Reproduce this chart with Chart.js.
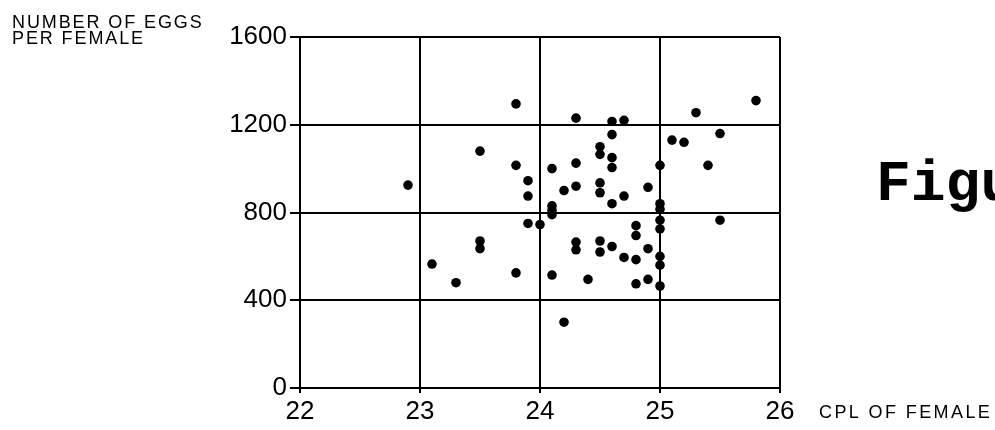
<!DOCTYPE html>
<html>
<head>
<meta charset="utf-8">
<script src="https://cdn.jsdelivr.net/npm/chart.js@4"></script>
<style>
  body { margin: 0; background: #fff; overflow: hidden; }
  #wrap { width: 995px; height: 430px; }
</style>
</head>
<body>
<div id="wrap"><canvas id="myChart" width="995" height="430"></canvas></div>
<script>
// Longitud (CPL) de cada hembra y número de huevos
var cplFemale = [
  22.9, 23.1, 23.3, 23.5, 23.5, 23.5, 23.8, 23.8, 23.8, 23.9,
  23.9, 23.9, 24.0, 24.1, 24.1, 24.1, 24.1, 24.1, 24.2, 24.2,
  24.3, 24.3, 24.3, 24.3, 24.3, 24.4, 24.5, 24.5, 24.5, 24.5,
  24.5, 24.5, 24.6, 24.6, 24.6, 24.6, 24.6, 24.6, 24.7, 24.7,
  24.7, 24.8, 24.8, 24.8, 24.8, 24.9, 24.9, 24.9, 25.0, 25.0,
  25.0, 25.0, 25.0, 25.0, 25.0, 25.0, 25.1, 25.2, 25.3, 25.4,
  25.5, 25.5, 25.8
];
var eggsPerFemale = [
  925, 565, 480, 1080, 670, 635, 1295, 1015, 525, 945,
  875, 750, 745, 1000, 830, 810, 790, 515, 900, 300,
  1230, 1025, 920, 665, 630, 495, 1100, 1065, 935, 890,
  670, 620, 1215, 1155, 1050, 1005, 840, 645, 1220, 875,
  595, 740, 695, 585, 475, 915, 635, 495, 1015, 840,
  815, 765, 725, 600, 560, 465, 1130, 1120, 1255, 1015,
  1160, 765, 1310
];
var xTicks = [22, 23, 24, 25, 26];
var yTicks = [0, 400, 800, 1200, 1600];

var points = cplFemale.map(function(x, i) {
  return { x: x, y: eggsPerFemale[i] };
});

// Textos sueltos alrededor de la gráfica
var textos = {
  id: 'textos',
  afterDraw: function(chart) {
    var c = chart.ctx;
    c.save();
    c.fillStyle = '#000';
    c.textAlign = 'left';
    c.textBaseline = 'alphabetic';
    c.font = '18px "Liberation Sans"';
    c.letterSpacing = '1.9px';
    c.fillText('NUMBER OF EGGS', 12, 28);
    c.fillText('PER FEMALE', 12, 44);
    c.letterSpacing = '2.4px';
    c.fillText('CPL OF FEMALE', 819, 418);
    c.letterSpacing = '0px';
    c.font = 'bold 58px "Liberation Mono"';
    c.fillText('Figure', 876, 200);
    c.restore();
  }
};

var ctx2 = document.getElementById('myChart').getContext('2d');
var chart = new Chart(ctx2, {
  type: 'scatter',
  data: {
    datasets: [{
      data: points,
      backgroundColor: '#000',
      borderWidth: 0,
      pointRadius: 4.8
    }]
  },
  options: {
    responsive: false,
    animation: false,
    layout: { padding: { top: 37, right: 215, left: 0, bottom: 0 } },
    plugins: { legend: { display: false }, tooltip: { enabled: false } },
    scales: {
      x: {
        type: 'linear',
        min: xTicks[0],
        max: xTicks[xTicks.length - 1],
        afterBuildTicks: function(scale) {
          scale.ticks = xTicks.map(function(v) { return { value: v }; });
        },
        afterFit: function(scale) { scale.height = 42; },
        ticks: {
          color: '#000',
          padding: 3,
          maxRotation: 0,
          font: { family: 'Liberation Sans', size: 26 },
          callback: function(v) { return String(v); }
        },
        grid: { color: '#000', lineWidth: 2, tickLength: 5 },
        border: { color: '#000', width: 2 }
      },
      y: {
        min: yTicks[0],
        max: yTicks[yTicks.length - 1],
        afterBuildTicks: function(scale) {
          scale.ticks = yTicks.map(function(v) { return { value: v }; });
        },
        afterFit: function(scale) { scale.width = 300; },
        ticks: {
          color: '#000',
          padding: 3,
          font: { family: 'Liberation Sans', size: 26 },
          callback: function(v) { return String(v); }
        },
        grid: { color: '#000', lineWidth: 2, tickLength: 10 },
        border: { color: '#000', width: 2 }
      }
    }
  },
  plugins: [textos]
});
</script>
</body>
</html>
